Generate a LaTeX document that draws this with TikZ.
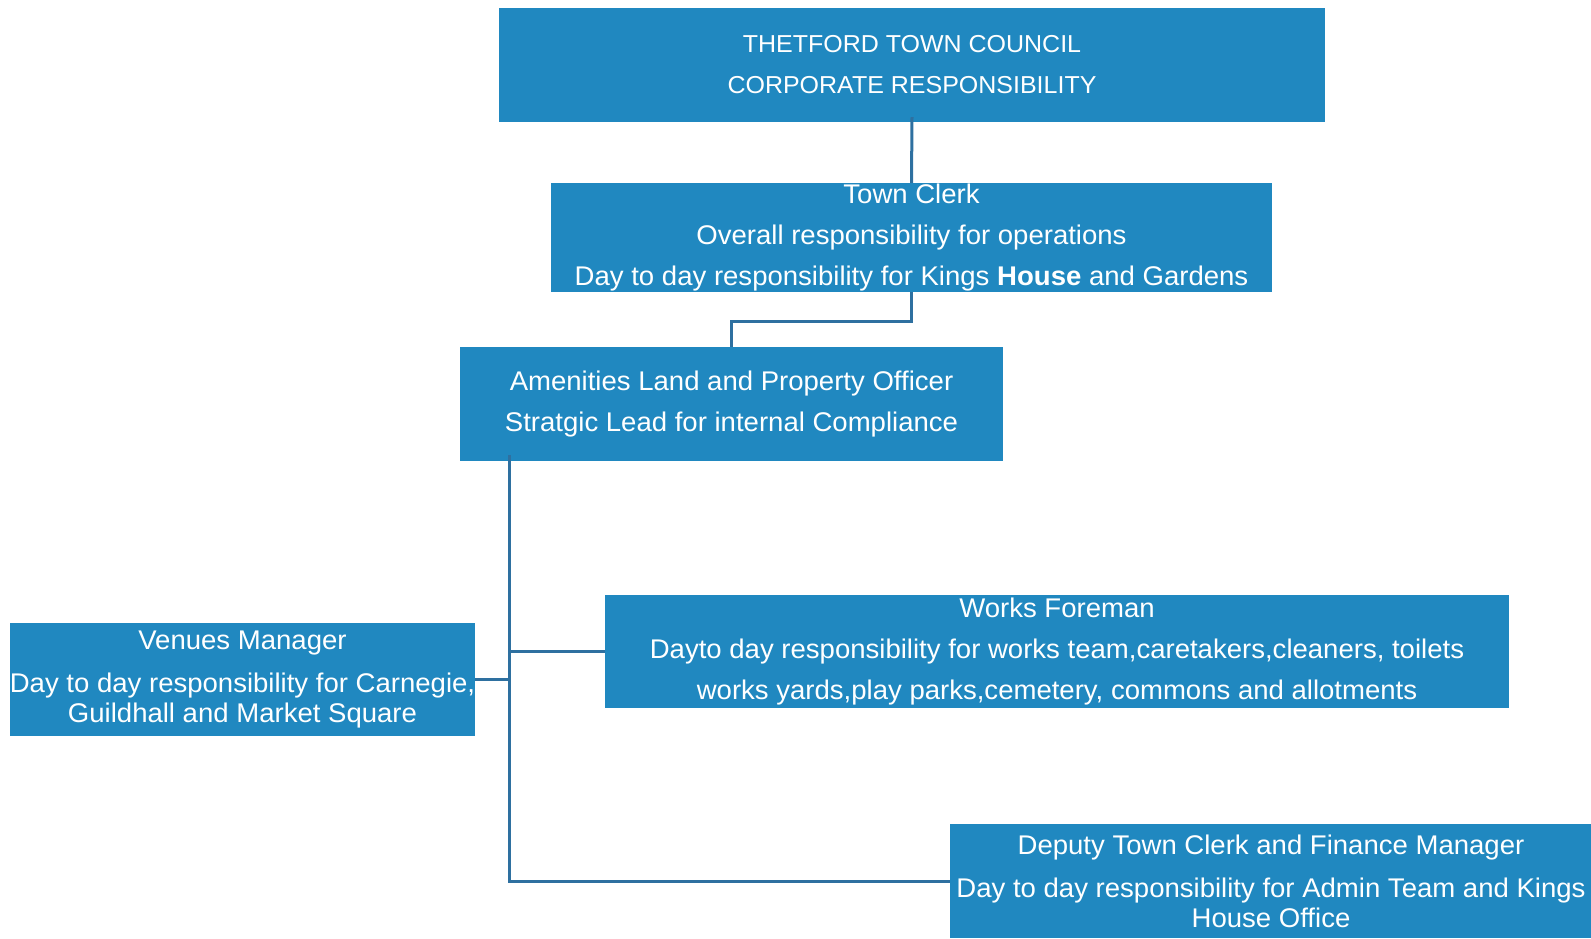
\documentclass[tikz,border=0pt]{standalone}
\usepackage{fontspec}
\setmainfont[FakeStretch=1.02]{Liberation Sans}
\definecolor{boxblue}{RGB}{32,136,192}
\definecolor{lineblue}{RGB}{46,112,160}
\begin{document}
\begin{tikzpicture}[x=1pt,y=-1pt,
  orgbox/.style={rectangle, fill=boxblue, text=white, inner sep=0pt, align=center,
    font=\fontsize{27}{30}\selectfont},
  link/.style={draw=lineblue, line width=3pt}]
\useasboundingbox (0,0) rectangle (1591,938);
\node[orgbox, minimum width=826, minimum height=114, font=\fontsize{24.5}{30}\selectfont] (top) at (912,65)
  {THETFORD TOWN COUNCIL\\[11pt]CORPORATE RESPONSIBILITY};
\node[orgbox, minimum width=721, minimum height=109] (clerk) at (911.5,237.5)
  {Town Clerk\\[11pt]Overall responsibility for operations\\[11pt]Day to day responsibility for Kings \textbf{House} and Gardens};
\node[orgbox, minimum width=543, minimum height=114] (amen) at (731.5,404)
  {Amenities Land and Property Officer\\[11pt]Stratgic Lead for internal Compliance};
\node[orgbox, minimum width=465, minimum height=113] (ven) at (242.5,679.5)
  {Venues Manager\\[13pt]Day to day responsibility for Carnegie,\\Guildhall and Market Square};
\node[orgbox, minimum width=904, minimum height=113] (works) at (1057,651.5)
  {Works Foreman\\[11pt]Dayto day responsibility for works team,caretakers,cleaners, toilets\\[11pt]works yards,play parks,cemetery, commons and allotments};
\node[orgbox, minimum width=642, minimum height=114] (dep) at (1271,881)
  {Deputy Town Clerk and Finance Manager\\[13pt]Day to day responsibility for Admin Team and Kings\\House Office};
\draw[link] ([yshift=5]top.south) -- (clerk.north);
\draw[link] (clerk.south) -- ++(0,29) -| (amen.north);
\draw[link] ([xshift=50,yshift=6]amen.south west) |- (dep.west);
\draw[link] (works.west) -- ++(-95,0);
\draw[link] (ven.east) -- ++(35,0);
\end{tikzpicture}
\end{document}
